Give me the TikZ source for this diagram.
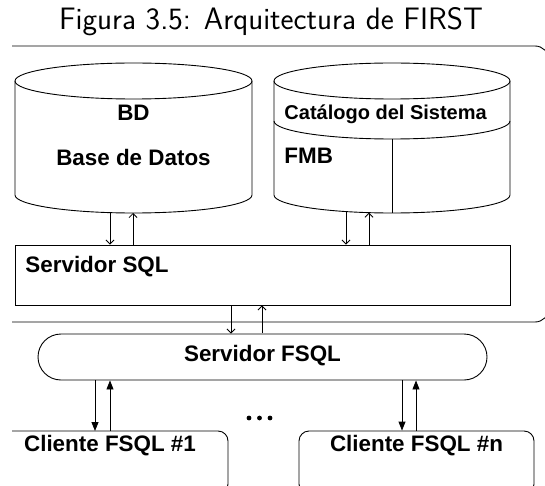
\documentclass[tikz,border=0pt]{standalone}
\usepackage{fontspec}
\newfontfamily\arialfont{Liberation Sans}
\usetikzlibrary{arrows.meta}
\begin{document}
\begin{tikzpicture}[x=1pt,y=-1pt,line width=0.9pt,
  lbl/.style={font=\arialfont\bfseries\fontsize{22.4}{26}\selectfont, inner sep=0pt},
  lblsmall/.style={font=\arialfont\bfseries\fontsize{20}{24}\selectfont, inner sep=0pt},
  barb/.style={-{Straight Barb[length=4pt,width=8pt]}, line width=0.8pt},
  tri/.style={-{Triangle[length=9pt,width=7pt]}, line width=0.9pt},
  plainbox/.style={draw, inner sep=0pt},
]
\useasboundingbox (0,0) rectangle (545,486);

% caption
\node[font=\sffamily\fontsize{31}{36}\selectfont, inner sep=0pt] (title) at (271,22) {Figura 3.5: Arquitectura de FIRST};

% database server region (open on the left)
\draw[rounded corners=14pt] (12,46) -- (549,46) -- (549,322) -- (12,322);

% cylinder: BD
\draw (133.5,81) ellipse [x radius=118.5pt, y radius=18pt];
\draw (15,81) -- (15,195) arc [start angle=180, end angle=360, x radius=118.5pt, y radius=18pt] -- (252,81);
\node[lbl] (bd) at (133.5,113) {BD};
\node[lbl] (bdname) at (133.5,157) {Base de Datos};

% cylinder: system catalogue
\draw (392,81) ellipse [x radius=118pt, y radius=18pt];
\draw (274,81) -- (274,195) arc [start angle=180, end angle=360, x radius=118pt, y radius=18pt] -- (510,81);
\draw (274,121) arc [start angle=180, end angle=360, x radius=118pt, y radius=18pt];
\draw (392,139) -- (392,213);
\node[lblsmall, anchor=base west] (cat) at (284,120) {Catálogo del Sistema};
\node[lbl, anchor=base west] (fmb) at (284,164) {FMB};

% SQL server
\node[plainbox, minimum width=495pt, minimum height=60pt] (sql) at (262.5,275) {};
\node[lbl, anchor=base west] (sqltext) at (25,272) {Servidor SQL};

% FSQL server
\node[plainbox, rounded corners=23pt, minimum width=449pt, minimum height=46pt] (fsql) at (262.5,357) {};
\node[lbl] (fsqltext) at (262.5,356) {Servidor FSQL};

% clients
\draw[rounded corners=10pt] (12,431) -- (228,431) -- (228,494) -- (12,494);
\node[plainbox, rounded corners=10pt, minimum width=235pt, minimum height=63pt] (cn) at (416.5,462.5) {};
\node[lbl] (c1text) at (110,446) {Cliente FSQL \#1};
\node[lbl] (cntext) at (416.5,446) {Cliente FSQL \#n};
\coordinate (c1top) at (110,431);

% ellipsis between the clients
\foreach \x/\n in {249/a,259.5/b,270/c}
  \fill (\x,418) circle (2.4pt) coordinate (dot\n);

% connection points on the cylinder bottoms
\coordinate (bdd) at (110,212.6);
\coordinate (bdu) at (133,213);
\coordinate (catd) at (346,211.6);
\coordinate (catu) at (369,212.7);

% connectors
\draw[barb] (bdd) -- (bdd |- sql.north);
\draw[barb] (bdu |- sql.north) -- (bdu);
\draw[barb] (catd) -- (catd |- sql.north);
\draw[barb] (catu |- sql.north) -- (catu);
\draw[barb] (231,305) coordinate (sqld) -- (sqld |- fsql.north);
\draw[barb] (262,333) coordinate (sqlu) -- (sqlu |- sql.south);
\draw[tri] (95,380) coordinate (fd1) -- (fd1 |- c1top);
\draw[tri] (110,431) coordinate (fu1) -- (fu1 |- fsql.south);
\draw[tri] (402,380) coordinate (fdn) -- (fdn |- cn.north);
\draw[tri] (416,431) coordinate (fun) -- (fun |- fsql.south);
\end{tikzpicture}
\end{document}
